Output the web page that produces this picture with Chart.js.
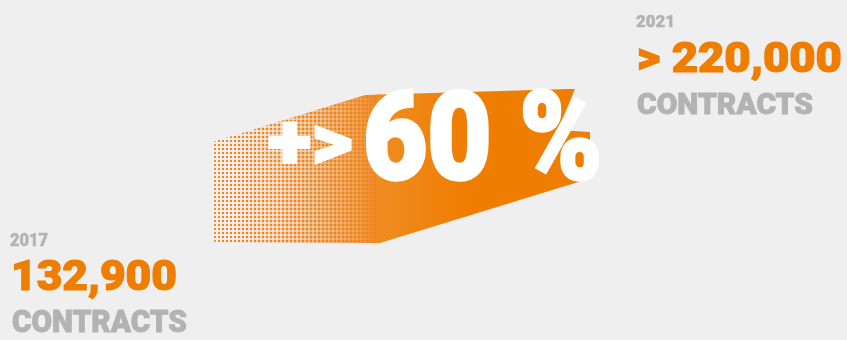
<!DOCTYPE html>
<html>
<head>
<meta charset="utf-8">
<script src="https://cdn.jsdelivr.net/npm/chart.js@4"></script>
<style>
  html, body { margin: 0; padding: 0; background: #efefef; }
  #wrap { position: relative; width: 847px; height: 340px; overflow: hidden; background: #efefef; }
  #chart { position: absolute; left: 0; top: 0; }
  .lbl {
    position: absolute; white-space: nowrap; line-height: 1;
    font-family: Roboto, "Liberation Sans", sans-serif;
    font-weight: 900; transform-origin: 0 0;
  }
</style>
</head>
<body>
<div id="wrap">
  <canvas id="chart" width="847" height="340"></canvas>
</div>
<script>
// values
const years = [2017, 2021];
const contracts = [132900, 220000];
const contractLabels = ['132,900', '> 220,000'];
const unitLabel = 'CONTRACTS';
const growthLabels = ['+>', '60 %'];

const ORANGE = '#ef7d00';
const GREY = '#b3b3b3';

// band drawn behind the growth figure, anchored on the two data points
const growthBand = {
	id: 'growthBand',
	beforeDatasetsDraw(chart) {
		const pts = chart.getDatasetMeta(0).data;
		const a = pts[0], b = pts[1];
		const ctx = chart.ctx;
		const left = a.x - 167, top = a.y - 101;

		ctx.save();
		ctx.beginPath();
		ctx.moveTo(left, a.y);
		ctx.lineTo(left, top);
		ctx.lineTo(a.x - 15, a.y - 148);
		ctx.lineTo(b.x - 20, b.y - 90);
		ctx.lineTo(b.x - 13, b.y - 90);
		ctx.lineTo(b.x - 30, b.y - 49);
		ctx.lineTo(b.x + 2, b.y - 47);
		ctx.lineTo(b.x + 2, b.y - 3);
		ctx.lineTo(b.x, b.y);
		ctx.lineTo(a.x, a.y);
		ctx.closePath();
		ctx.clip();

		// halftone part
		ctx.fillStyle = '#f0851c';
		let step = 4;
		for (let x = left; x < a.x; x += step) {
			let t = (x - left) / (a.x - left);
			let s = 1.9 + 2.1 * t;
			for (let y = a.y - 160; y < a.y; y += step) {
				ctx.fillRect(x + (step - s) / 2, y + (step - s) / 2, s, s);
			}
		}

		// solid part
		let grad = ctx.createLinearGradient(a.x - 4, 0, a.x + 90, 0);
		grad.addColorStop(0, '#f08d22');
		grad.addColorStop(1, ORANGE);
		ctx.fillStyle = grad;
		ctx.fillRect(a.x - 4, 0, chart.width, chart.height);
		ctx.restore();
	}
};

let ctx = document.getElementById('chart').getContext('2d');
let myChart = new Chart(ctx, {
	type: 'line',
	data: {
		datasets: [{
			label: unitLabel,
			data: years.map((y, i) => ({ x: y, y: contracts[i] })),
			showLine: false,
			pointRadius: 0,
			borderWidth: 0
		}]
	},
	options: {
		responsive: false,
		animation: false,
		layout: { padding: 0 },
		plugins: { legend: { display: false }, tooltip: { enabled: false } },
		scales: {
			x: { type: 'linear', display: false, min: 2009.6923, max: 2025.9808 },
			y: { type: 'linear', display: false, min: 887.5, max: 463606.25 }
		}
	},
	plugins: [growthBand]
});

// text labels: [text, left, baseline, font size, width, colour, stroke]
let labels = [
	[String(years[0]), 10, 246, 18, 38, GREY, 0.4],
	[contractLabels[0], 11, 290, 43, 166, ORANGE, 1.2],
	[unitLabel, 12, 332, 31, 175, GREY, 0.9],
	[String(years[1]), 636, 28, 16, 39, GREY, 0.4],
	[contractLabels[1], 637, 73, 42, 205, ORANGE, 1.2],
	[unitLabel, 637, 115, 29, 176, GREY, 0.9],
	[growthLabels[0], 268, 169, 78, 85, '#ffffff', 2],
	[growthLabels[1], 363, 180, 123, 239, '#ffffff', 3.5]
];

let wrap = document.getElementById('wrap');
labels.forEach((l) => {
	let el = document.createElement('div');
	el.className = 'lbl';
	el.textContent = l[0];
	el.style.left = l[1] + 'px';
	el.style.top = (l[2] - 0.8465 * l[3]) + 'px';
	el.style.fontSize = l[3] + 'px';
	el.style.color = l[5];
	el.style.webkitTextStroke = l[6] + 'px ' + l[5];
	wrap.appendChild(el);
	let w = el.getBoundingClientRect().width;
	el.style.transform = 'scaleX(' + (l[4] / w).toFixed(3) + ')';
});
</script>
</body>
</html>
